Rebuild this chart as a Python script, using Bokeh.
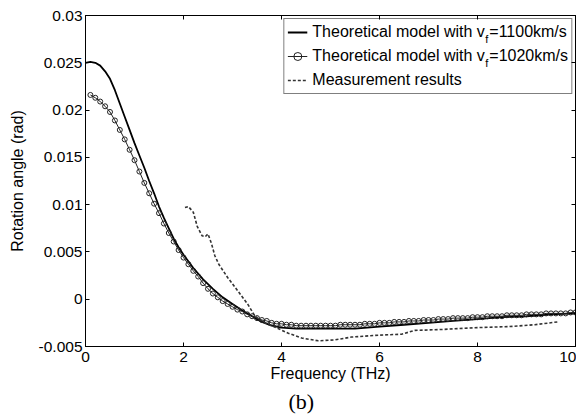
from bokeh.plotting import figure
from bokeh.models import LinearAxis, FixedTicker, Range1d, Legend, LegendItem, Title
from bokeh.core.properties import value
from bokeh.embed import file_html
from bokeh.resources import INLINE

# ---------------- data ----------------
freq_1100 = [0.0, 0.1, 0.2, 0.3, 0.4, 0.5, 0.6, 0.7, 0.8, 0.9, 1.0, 1.1, 1.2, 1.3, 1.4,
             1.5, 1.6, 1.7, 1.8, 1.9, 2.0, 2.2, 2.4, 2.6, 2.8, 3.0, 3.2, 3.4, 3.6, 3.8,
             4.0, 4.3, 4.6, 5.0, 5.5, 6.0, 6.5, 7.0, 7.5, 8.0, 8.5, 9.0, 9.5, 10.0]
rot_1100 = [0.0250, 0.0251, 0.0250, 0.0247, 0.0241, 0.0233, 0.0221, 0.0207, 0.0193, 0.0179,
            0.0165, 0.0152, 0.0139, 0.0125, 0.0112, 0.0098, 0.0086, 0.0075, 0.0064, 0.0055,
            0.0047, 0.0033, 0.0021, 0.0011, 0.0002, -0.0005, -0.0012, -0.0018, -0.0024, -0.0028,
            -0.0030, -0.0031, -0.0031, -0.0031, -0.0031, -0.0029, -0.0027, -0.0025, -0.0023, -0.0021,
            -0.0019, -0.0018, -0.0016, -0.0015]

freq_1020 = [0.1, 0.2, 0.3, 0.4, 0.5, 0.6, 0.7, 0.8, 0.9, 1.0,
             1.1, 1.2, 1.3, 1.4, 1.5, 1.6, 1.7, 1.8, 1.9, 2.0,
             2.1, 2.2, 2.3, 2.4, 2.5, 2.6, 2.7, 2.8, 2.9, 3.0,
             3.1, 3.2, 3.3, 3.4, 3.5, 3.6, 3.7, 3.8, 3.9, 4.0,
             4.1, 4.2, 4.3, 4.4, 4.5, 4.6, 4.7, 4.8, 4.9, 5.0,
             5.1, 5.2, 5.3, 5.4, 5.5, 5.6, 5.7, 5.8, 5.9, 6.0,
             6.1, 6.2, 6.3, 6.4, 6.5, 6.6, 6.7, 6.8, 6.9, 7.0,
             7.1, 7.2, 7.3, 7.4, 7.5, 7.6, 7.7, 7.8, 7.9, 8.0,
             8.1, 8.2, 8.3, 8.4, 8.5, 8.6, 8.7, 8.8, 8.9, 9.0,
             9.1, 9.2, 9.3, 9.4, 9.5, 9.6, 9.7, 9.8, 9.9, 10.0]
rot_1020 = [0.0216, 0.0213, 0.0209, 0.0204, 0.0198, 0.0189, 0.0179, 0.0169, 0.0158, 0.0147,
            0.0135, 0.0123, 0.0112, 0.0101, 0.0091, 0.0080, 0.0070, 0.0061, 0.0052, 0.0044,
            0.0037, 0.0030, 0.0024, 0.0017, 0.0011, 0.0006, 0.0002, -0.0002, -0.0005, -0.0008,
            -0.0011, -0.0013, -0.0016, -0.0018, -0.0020, -0.0022, -0.0023, -0.0025, -0.0026, -0.0026,
            -0.0027, -0.0027, -0.0028, -0.0028, -0.0028, -0.0028, -0.0028, -0.0028, -0.0028, -0.0028,
            -0.0028, -0.0027, -0.0027, -0.0027, -0.0027, -0.0027, -0.0026, -0.0026, -0.0026, -0.0025,
            -0.0025, -0.0025, -0.0024, -0.0024, -0.0024, -0.0023, -0.0023, -0.0023, -0.0022, -0.0022,
            -0.0022, -0.0021, -0.0021, -0.0021, -0.0020, -0.0020, -0.0020, -0.0020, -0.0019, -0.0019,
            -0.0019, -0.0018, -0.0018, -0.0018, -0.0018, -0.0017, -0.0017, -0.0017, -0.0017, -0.0016,
            -0.0016, -0.0016, -0.0016, -0.0015, -0.0015, -0.0015, -0.0015, -0.0015, -0.0014, -0.0014]

freq_meas = [2.03, 2.10, 2.20, 2.28, 2.38, 2.44, 2.50, 2.57, 2.64, 2.72, 2.90, 3.12, 3.32,
             3.46, 3.66, 3.93, 4.14, 4.41, 4.75, 5.09, 5.43, 5.99, 6.45, 6.72, 7.27, 8.01,
             8.63, 9.17, 9.63]
rot_meas = [0.0097, 0.0098, 0.0092, 0.0077, 0.0067, 0.0066, 0.0069, 0.0059, 0.0046, 0.0037,
            0.0023, 0.0008, -0.0006, -0.0018, -0.0025, -0.0031, -0.0036, -0.0041, -0.0044,
            -0.0043, -0.0040, -0.0038, -0.0037, -0.0033, -0.0032, -0.0030, -0.0029, -0.0027,
            -0.0024]

x_ticks = [0, 2, 4, 6, 8, 10]
x_tick_labels = ["0", "2", "4", "6", "8", "10"]
y_ticks = [-0.005, 0.0, 0.005, 0.01, 0.015, 0.02, 0.025, 0.03]
y_tick_labels = ["-0.005", "0", "0.005", "0.01", "0.015", "0.02", "0.025", "0.03"]

legend_texts = ["Theoretical model with v =1100km/s",
                "Theoretical model with v =1020km/s",
                "Measurement results"]
subscript_text = "f"
x_title = "Frequency (THz)"
y_title = "Rotation angle (rad)"
caption_text = "(b)"

SANS = "Liberation Sans"

# ---------------- figure ----------------
p = figure(width=576, height=417, output_backend="svg", toolbar_location=None,
           x_range=Range1d(0, 10), y_range=Range1d(-0.005, 0.03),
           min_border_left=85, min_border_right=1, min_border_top=15, min_border_bottom=71)
p.xgrid.visible = False
p.ygrid.visible = False
p.outline_line_color = "black"
p.outline_line_width = 1
p.background_fill_color = "white"
p.border_fill_color = "white"


def style_axis(ax, ticks, overrides, show_labels=True, standoff=3):
    ax.ticker = FixedTicker(ticks=ticks)
    ax.major_label_overrides = overrides
    ax.major_tick_in = 4
    ax.major_tick_out = 0
    ax.minor_tick_in = 0
    ax.minor_tick_out = 0
    ax.axis_line_color = "black"
    ax.major_tick_line_color = "black"
    ax.major_label_text_font = SANS
    ax.major_label_text_color = "black"
    if show_labels:
        ax.major_label_text_font_size = "15.5px"
        ax.major_label_standoff = standoff
    else:
        ax.major_label_text_font_size = "0px"
        ax.major_label_standoff = 0


x_over = {t: s for t, s in zip(x_ticks, x_tick_labels)}
y_over = {t: s for t, s in zip(y_ticks, y_tick_labels)}

style_axis(p.xaxis[0], x_ticks, x_over, standoff=5)
style_axis(p.yaxis[0], y_ticks, y_over, standoff=3)
p.xaxis[0].axis_label = x_title
p.yaxis[0].axis_label = y_title
for ax in (p.xaxis[0], p.yaxis[0]):
    ax.axis_label_text_font = SANS
    ax.axis_label_text_font_size = "16px"
    ax.axis_label_text_font_style = "normal"
    ax.axis_label_text_color = "black"
p.xaxis[0].axis_label_standoff = 0
p.yaxis[0].axis_label_standoff = 10

top_ax = LinearAxis()
style_axis(top_ax, x_ticks, {t: "" for t in x_ticks}, show_labels=False)
p.add_layout(top_ax, "above")
right_ax = LinearAxis()
style_axis(right_ax, y_ticks, {t: "" for t in y_ticks}, show_labels=False)
p.add_layout(right_ax, "right")

# caption below the axis
p.add_layout(Title(text=caption_text, align="left", offset=203, standoff=4,
                   text_font="Liberation Serif", text_font_size="22px",
                   text_font_style="normal", text_color="black"), "below")

# ---------------- glyphs ----------------
r1 = p.line(freq_1100, rot_1100, line_color="black", line_width=1.8)
r2l = p.line(freq_1020, rot_1020, line_color="#222222", line_width=1)
r2s = p.scatter(freq_1020, rot_1020, marker="circle", size=5, line_color="#222222",
                line_width=1, fill_color="white", fill_alpha=0.0)
r3 = p.line(freq_meas, rot_meas, line_color="#333333", line_width=1.6, line_dash="3 2")

# subscript "f" of v_f in the legend entries
p.text(x=[8.16, 8.16], y=[0.02750, 0.02496], text=[subscript_text, subscript_text],
       text_font=value(SANS), text_font_size="11px", text_color="black",
       text_align="left", text_baseline="middle")

legend = Legend(items=[LegendItem(label=legend_texts[0], renderers=[r1]),
                       LegendItem(label=legend_texts[1], renderers=[r2l, r2s]),
                       LegendItem(label=legend_texts[2], renderers=[r3])],
                location="top_right", margin=3, padding=3, spacing=4,
                label_height=20, glyph_height=20, glyph_width=20, label_standoff=5,
                label_text_font=SANS, label_text_font_size="16px",
                label_text_color="black", border_line_color="black",
                border_line_width=1, background_fill_alpha=0.0)
p.add_layout(legend)

open("out.html", "w").write(file_html(p, INLINE))
